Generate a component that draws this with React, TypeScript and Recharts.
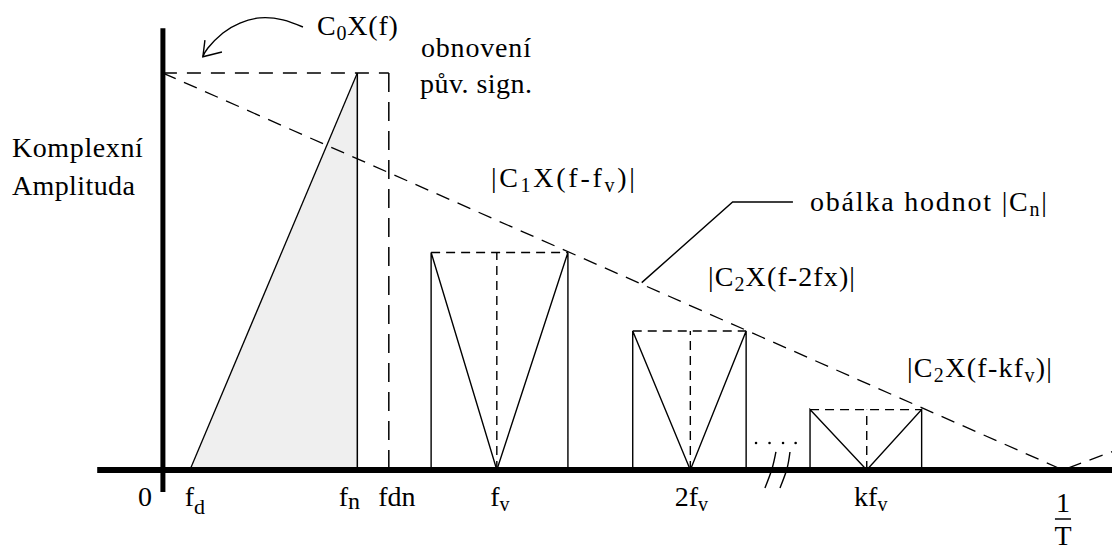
import React from 'react';
import { ComposedChart, Line, Area, XAxis, YAxis, Scatter } from 'recharts';

const FONT = '"Liberation Serif", "Times New Roman", Times, serif';

// ---------- data (frequency in arbitrary units, 1/T = 100; amplitude: |C0| = 100) ----------
const F_D = 3.0;
const F_N = 21.6;
const F_DN = 25.1;
const INV_T = 100;
const BASE_LEVEL = 100;

const bandLeft = [29.8, 52.2, 71.9];
const bandCenter = [37.1, 58.6, 78.2];
const bandRight = [45.0, 64.8, 84.3];
const bandTop = [54.8, 35.0, 15.2];

const envelopeX = [0, 100, 105.45];
const envelopeY = [100, 0, 4.6];

const leaderX = [53.2, 63.3, 70.0];
const leaderY = [47.2, 67.5, 67.5];

const arrowX = [15.56, 13.33, 10.78, 8.56, 6.67, 5.0, 4.44];
const arrowY = [111.6, 113.4, 113.9, 112.6, 110.1, 106.3, 104.1];
const arrowHeadX = [4.67, 4.44, 6.56];
const arrowHeadY = [108.3, 104.1, 105.3];

const dotsX = [65.9, 67.4, 68.9, 70.3];
const dotsY = [6.8, 6.8, 6.8, 6.8];

const break1X = [68.11, 67.67, 66.89];
const break2X = [69.67, 69.33, 68.56];
const breakY = [4.53, 0.25, -4.53];

const tickValues = [0, F_D, F_N, F_DN, bandCenter[0], bandCenter[1], bandCenter[2], INV_T];
const tickMain = ['0', 'f', 'f', 'fdn', 'f', '2f', 'kf', '1'];
const tickSub = ['', 'd', 'n', '', 'v', 'v', 'v', ''];

const noteIds = ['c0', 'obn', 'puv', 'komp', 'ampl', 'c1', 'obal', 'c2a', 'c2k'];
const noteX = [17.11, 28.67, 28.56, -16.78, -16.78, 36.44, 71.89, 60.56, 82.67];
const noteY = [109.6, 104.05, 94.98, 78.86, 69.28, 71.3, 65.25, 46.36, 23.43];
const noteText: Array<Array<[string, boolean]>> = [
  [['C', false], ['0', true], ['X(f)', false]],
  [['obnovení', false]],
  [['pův. sign.', false]],
  [['Komplexní', false]],
  [['Amplituda', false]],
  [['|C', false], ['1', true], ['X(f-f', false], ['v', true], [')|', false]],
  [['obálka hodnot |C', false], ['n', true], ['|', false]],
  [['|C', false], ['2', true], ['X(f-2fx)|', false]],
  [['|C', false], ['2', true], ['X(f-kf', false], ['v', true], [')|', false]],
];

// ---------- tables built from the data ----------
const pts = (xs: number[], ys: number[]) => xs.map((x, i) => ({ x, y: ys[i] }));

const basebandLine = pts([F_D, F_N], [0, BASE_LEVEL]);
const fnLine = pts([F_N, F_N], [0, BASE_LEVEL]);
const rectTop = pts([0, F_DN], [BASE_LEVEL, BASE_LEVEL]);
const rectSide = pts([F_DN, F_DN], [BASE_LEVEL, 0]);
const envelope = pts(envelopeX, envelopeY);
const leader = pts(leaderX, leaderY);
const arrow = pts(arrowX, arrowY);
const arrowHead = pts(arrowHeadX, arrowHeadY);
const dots = pts(dotsX, dotsY);
const break1 = pts(break1X, breakY);
const break2 = pts(break2X, breakY);

const bandSolid = bandLeft.map((l, i) =>
  pts([l, l, bandCenter[i], bandRight[i], bandRight[i]], [0, bandTop[i], 0, bandTop[i], 0])
);
const bandDashTop = bandLeft.map((l, i) => pts([l, bandRight[i]], [bandTop[i], bandTop[i]]));
const bandDashMid = bandCenter.map((c, i) => pts([c, c], [0, bandTop[i]]));

const notes = noteIds.map((id, i) => ({ x: noteX[i], y: noteY[i], id, idx: i }));

const hAxis = pts([-7.3, 105.45], [0, 0]);
const vAxis = pts([0, 0], [-5.55, 111.3]);

// ---------- styles ----------
const X_DOMAIN: [number, number] = [-18.1, 105.45];
const Y_DOMAIN: [number, number] = [-5.55, 118.4];
const TICK_DX = [-18, 5, -8, 8, 3, 1, 4, 0];
const SUB_SIZE: Record<string, number> = { d: 22, n: 24, v: 20 };
const SUB_DY: Record<string, number> = { d: 8, n: 3, v: 5 };
const NOTE_LEN: Record<string, number> = {
  c0: 81, obn: 110, puv: 112, komp: 131, ampl: 123, c1: 144, obal: 237, c2a: 147, c2k: 145,
};

function AxisTick(props: any) {
  const { x, y, payload } = props;
  const i = tickValues.indexOf(payload.value);
  if (i < 0) return null;
  const cx = x + TICK_DX[i];
  if (i === 7) {
    return (
      <g>
        <text x={cx} y={y + 20} textAnchor="middle" fontFamily={FONT} fontSize={28} fill="#000">1</text>
        <line x1={cx - 8} x2={cx + 8} y1={y + 27} y2={y + 27} stroke="#000" strokeWidth={1.5} />
        <text x={cx} y={y + 53} textAnchor="middle" fontFamily={FONT} fontSize={28} fill="#000">T</text>
      </g>
    );
  }
  const sub = tickSub[i];
  return (
    <text x={cx} y={y + 14} textAnchor="middle" fontFamily={FONT} fontSize={28} fill="#000">
      <tspan>{tickMain[i]}</tspan>
      {sub ? (
        <tspan fontSize={SUB_SIZE[sub]} dy={SUB_DY[sub]}>{sub}</tspan>
      ) : null}
    </text>
  );
}

function NoteShape(props: any) {
  const { cx, cy, payload } = props;
  const segs = noteText[payload.idx];
  let shift = 0;
  const spans = segs.map(([t, sub], k) => {
    let dy = 0;
    if (sub && shift === 0) { dy = 5; shift = 5; }
    else if (!sub && shift !== 0) { dy = -shift; shift = 0; }
    return (
      <tspan key={k} fontSize={sub ? 20 : 28} dy={dy}>{t}</tspan>
    );
  });
  return (
    <text
      x={cx}
      y={cy}
      fontFamily={FONT}
      fontSize={28}
      fill="#000"
      textLength={NOTE_LEN[payload.id]}
      lengthAdjust="spacing"
    >
      {spans}
    </text>
  );
}

const DotShape = (p: any) => <circle cx={p.cx} cy={p.cy} r={1.3} fill="#000" />;

const L = (data: any[], extra: any, key: string) => (
  <Line
    key={key}
    data={data}
    dataKey="y"
    type="linear"
    stroke="#000"
    strokeWidth={1.4}
    dot={false}
    activeDot={false}
    isAnimationActive={false}
    {...extra}
  />
);

export default function App() {
  return (
    <div style={{ position: 'absolute', left: 0, top: 0, width: 1112, height: 552, background: '#fff' }}>
      <ComposedChart width={1112} height={552} margin={{ top: 0, right: 0, bottom: 0, left: 0 }}>
        <XAxis
          type="number"
          dataKey="x"
          domain={X_DOMAIN}
          allowDataOverflow
          ticks={tickValues}
          interval={0}
          axisLine={false}
          tickLine={false}
          tickSize={0}
          tickMargin={0}
          height={60}
          tick={(p: any) => <AxisTick {...p} />}
        />
        <YAxis type="number" dataKey="y" domain={Y_DOMAIN} allowDataOverflow hide />

        <Area
          data={basebandLine}
          dataKey="y"
          type="linear"
          stroke="none"
          fill="#efefef"
          fillOpacity={1}
          isAnimationActive={false}
          activeDot={false}
        />

        {L(rectTop, { strokeDasharray: '14 10', strokeWidth: 1.5 }, 'rt')}
        {L(rectSide, { strokeDasharray: '19 10', strokeWidth: 1.5 }, 'rs')}
        {L(envelope, { strokeDasharray: '14 9', strokeWidth: 1.3 }, 'env')}
        {bandDashTop.map((d, i) => L(d, { strokeDasharray: '9 6', strokeWidth: 1.4 }, 'bt' + i))}
        {bandDashMid.map((d, i) => L(d, { strokeDasharray: '9 6', strokeWidth: 1.4 }, 'bm' + i))}

        {L(basebandLine, { strokeWidth: 1.3 }, 'bb')}
        {L(fnLine, { strokeWidth: 1.5 }, 'fn')}
        {bandSolid.map((d, i) => L(d, { strokeWidth: 1.4 }, 'bs' + i))}
        {L(leader, { strokeWidth: 1.4 }, 'ld')}
        {L(arrow, { type: 'natural', strokeWidth: 1.4 }, 'ar')}
        {L(arrowHead, { strokeWidth: 1.4 }, 'ah')}

        {L(hAxis, { strokeWidth: 6 }, 'hx')}
        {L(vAxis, { strokeWidth: 5 }, 'vx')}

        {L(break1, { type: 'natural', strokeWidth: 1.4 }, 'b1')}
        {L(break2, { type: 'natural', strokeWidth: 1.4 }, 'b2')}

        <Scatter data={dots} dataKey="y" shape={DotShape} isAnimationActive={false} />
        <Scatter data={notes} dataKey="y" shape={NoteShape} isAnimationActive={false} />
      </ComposedChart>
    </div>
  );
}
